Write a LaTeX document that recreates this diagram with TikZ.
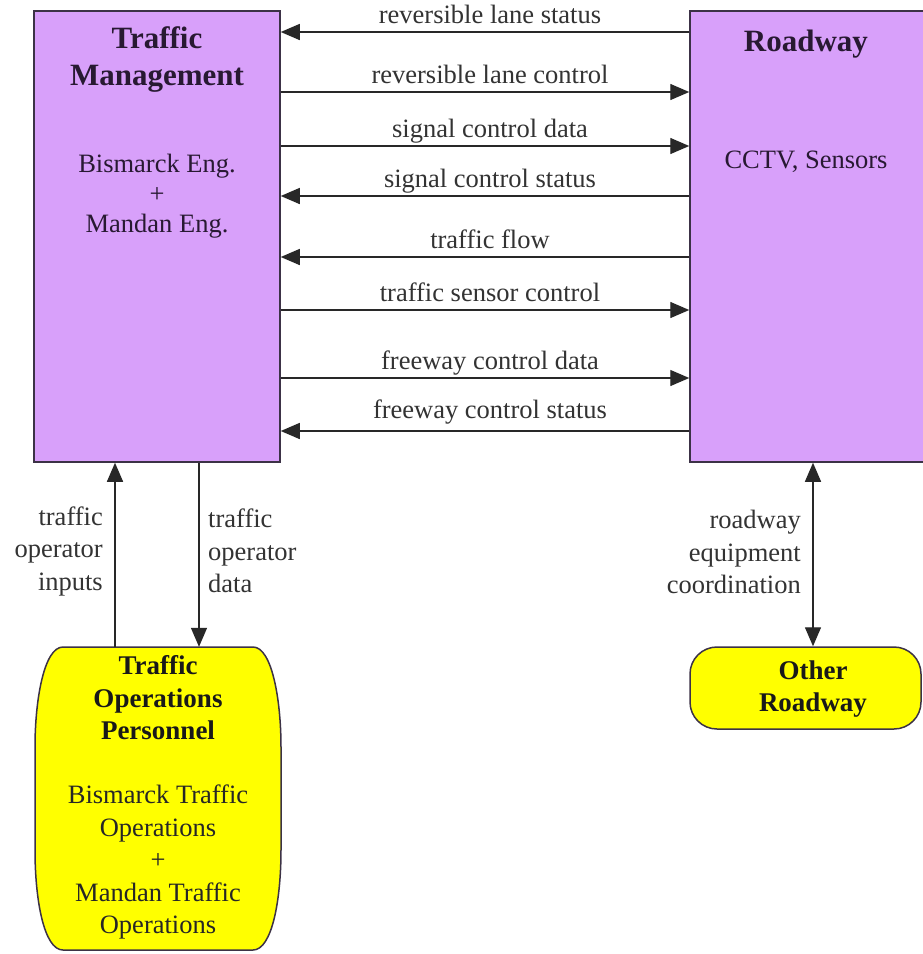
\documentclass[tikz,border=0pt]{standalone}
\usepackage{fontspec}
\newfontfamily\tfont{Liberation Serif}
\usetikzlibrary{arrows.meta}
\begin{document}
\definecolor{purp}{RGB}{216,160,250}
\definecolor{yel}{RGB}{255,255,0}
\definecolor{edgec}{RGB}{60,50,70}
\definecolor{txtc}{RGB}{40,25,50}
\definecolor{linec}{RGB}{40,40,40}
\begin{tikzpicture}[x=1pt,y=-1pt,
  box/.style={draw=edgec, line width=1.5pt, fill=purp, inner sep=0pt},
  ybox/.style={draw=edgec, line width=1.5pt, fill=yel},
  hole/.style={draw=none, inner sep=0pt},
  arr/.style={draw=linec, line width=1.4pt, -{Triangle[length=19pt,width=16pt]}},
  darr/.style={draw=linec, line width=1.4pt, {Triangle[length=19pt,width=16pt]}-{Triangle[length=19pt,width=16pt]}},
  lbl/.style={font=\tfont\fontsize{26.5}{32.5}\selectfont, text=black!80, inner sep=0pt},
  flow/.style={lbl, anchor=base, pos=0.5, xshift=5pt, yshift=9pt},
  hd/.style={font=\tfont\fontsize{31}{37}\bfseries\selectfont, text=txtc, inner sep=0pt, align=center},
  bd/.style={font=\tfont\fontsize{26.5}{30}\selectfont, text=txtc, inner sep=0pt, align=center},
  yhd/.style={font=\tfont\fontsize{27}{32.5}\bfseries\selectfont, text=black!90, inner sep=0pt, align=center},
  ybd/.style={font=\tfont\fontsize{26.5}{32.5}\selectfont, text=black!85, inner sep=0pt, align=center}
]
\useasboundingbox[fill=white] (0,0) rectangle (922,954);

% main boxes
\node[box, minimum width=246pt, minimum height=451pt] (tm) at (157,236.5) {};
\node[box, minimum width=234pt, minimum height=451pt] (rw) at (807,236.5) {};

% yellow terminators
\node[hole, minimum width=246pt, minimum height=303pt] (ops) at (158,798.5) {};
\draw[ybox] (63,647) -- (253,647)
  .. controls (272,647) and (281,700) .. (281,747) -- (281,850)
  .. controls (281,900) and (272,950) .. (253,950) -- (63,950)
  .. controls (44,950) and (35,900) .. (35,850) -- (35,747)
  .. controls (35,700) and (44,647) .. (63,647) -- cycle;
\node[ybox, rounded corners=27pt, minimum width=231pt, minimum height=82pt, inner sep=0pt] (oth) at (805.5,688) {};

% texts in boxes
\node[hd] (tmh) at (157,60) {Traffic\\Management};
\node[bd] (tmb) at (157,196) {Bismarck Eng.\\+\\Mandan Eng.};
\node[hd] (rwh) at (806,44) {Roadway};
\node[bd] (rwb) at (806,162) {CCTV, Sensors};
\node[yhd] (opsh) at (158,698) {Traffic\\Operations\\Personnel};
\node[ybd] (opsb) at (158,862) {Bismarck Traffic\\Operations\\+\\Mandan Traffic\\Operations};
\node[yhd] (othh) at (813,689) {Other\\Roadway};

% row coordinates
\coordinate (r1) at (0,32);
\coordinate (r2) at (0,92);
\coordinate (r3) at (0,146);
\coordinate (r4) at (0,196);
\coordinate (r5) at (0,257);
\coordinate (r6) at (0,310);
\coordinate (r7) at (0,378);
\coordinate (r8) at (0,431);

\draw[arr] (rw.west |- r1) -- node[flow] {reversible lane status} (tm.east |- r1);
\draw[arr] (tm.east |- r2) -- node[flow] {reversible lane control} (rw.west |- r2);
\draw[arr] (tm.east |- r3) -- node[flow] {signal control data} (rw.west |- r3);
\draw[arr] (rw.west |- r4) -- node[flow] {signal control status} (tm.east |- r4);
\draw[arr] (rw.west |- r5) -- node[flow] {traffic flow} (tm.east |- r5);
\draw[arr] (tm.east |- r6) -- node[flow] {traffic sensor control} (rw.west |- r6);
\draw[arr] (tm.east |- r7) -- node[flow] {freeway control data} (rw.west |- r7);
\draw[arr] (rw.west |- r8) -- node[flow, yshift=4pt] {freeway control status} (tm.east |- r8);

% vertical flows
\coordinate (cin) at (115,0);
\coordinate (cout) at (199,0);
\coordinate (ccoord) at (813,0);
\draw[arr] (ops.north -| cin) -- (tm.south -| cin);
\draw[arr] (tm.south -| cout) -- (ops.north -| cout);
\draw[darr] (rw.south -| ccoord) -- (oth.north -| ccoord);

\node[lbl, align=right, anchor=east] (lin) at (103,551) {traffic\\operator\\inputs};
\node[lbl, align=left, anchor=west] (lout) at (208,551) {traffic\\operator\\data};
\node[lbl, align=right, anchor=east] (lco) at (801,552) {roadway\\equipment\\coordination};
\end{tikzpicture}
\end{document}
